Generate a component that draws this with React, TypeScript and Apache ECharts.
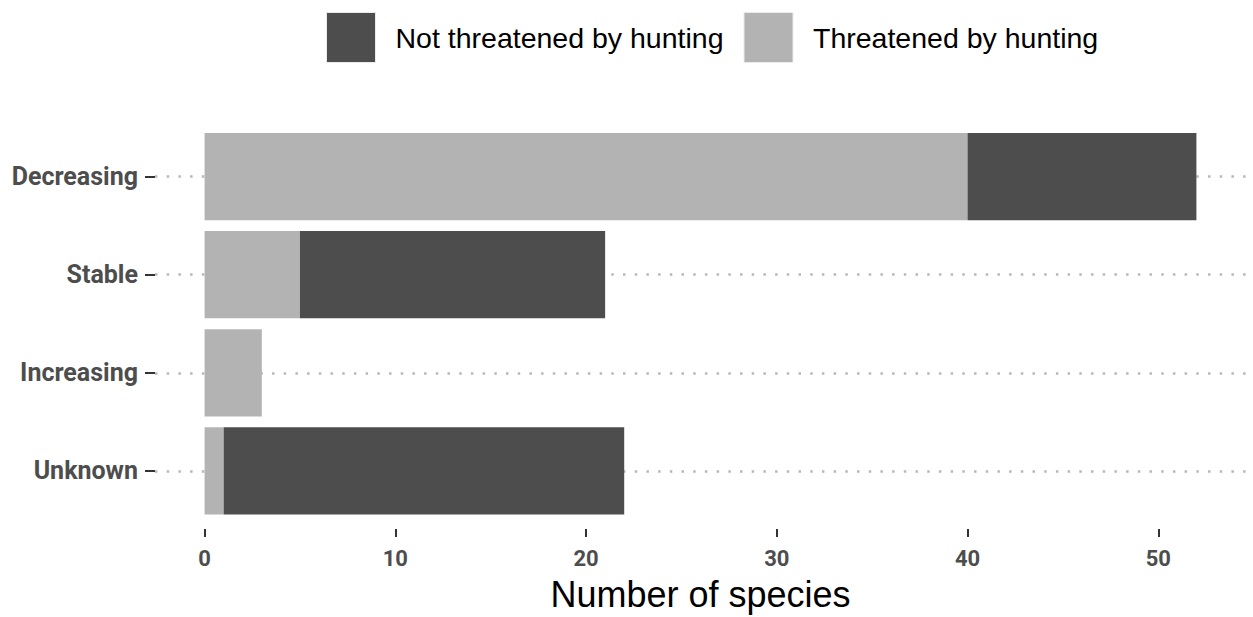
import React, { useEffect, useRef } from "react";
import * as echarts from "echarts";

const categories = ["Decreasing", "Stable", "Increasing", "Unknown"];
const threatened = [40, 5, 3, 1];
const notThreatened = [12, 16, 0, 21];
const xTicks = [0, 10, 20, 30, 40, 50];
const nameNot = "Not threatened by hunting";
const nameThr = "Threatened by hunting";
const colorNot = "#4d4d4d";
const colorThr = "#b3b3b3";

export default function App() {
  const ref = useRef<HTMLDivElement>(null);
  useEffect(() => {
    document.body.style.margin = "0";
    const chart = echarts.init(ref.current!, null, { renderer: "svg" });
    chart.setOption({
      animation: false,
      backgroundColor: "#ffffff",
      legend: {
        top: 7,
        left: 321,
        icon: "rect",
        itemWidth: 49,
        itemHeight: 50,
        itemGap: 20,
        data: [nameNot, nameThr],
        itemStyle: { borderColor: "#ebebeb", borderWidth: 1 },
        textStyle: {
          fontSize: 28.5,
          fontFamily: "Liberation Sans, Arial, sans-serif",
          color: "#000000",
          padding: [3, 0, 0, 15],
        },
      },
      grid: { left: 155, right: 7, top: 127.5, bottom: 93.5, containLabel: false },
      xAxis: {
        type: "value",
        min: -2.6,
        max: 54.6,
        offset: 9,
        axisLine: { show: false, onZero: false },
        axisTick: {
          show: true,
          length: 8,
          customValues: xTicks,
          lineStyle: { color: "#333333", width: 2 },
        },
        axisLabel: {
          customValues: xTicks,
          margin: 18,
          fontSize: 22,
          fontWeight: "bold",
          fontFamily: "Roboto, Arial, sans-serif",
          color: "#4d4d4d",
        },
        splitLine: { show: false },
        name: "Number of species",
        nameLocation: "middle",
        nameGap: 47,
        nameTextStyle: {
          fontSize: 36,
          fontFamily: "Liberation Sans, Arial, sans-serif",
          color: "#000000",
        },
      },
      yAxis: {
        type: "category",
        data: categories,
        inverse: true,
        axisLine: { show: false, onZero: false },
        axisTick: {
          show: true,
          alignWithLabel: true,
          length: 10,
          lineStyle: { color: "#333333", width: 2 },
        },
        axisLabel: {
          margin: 17,
          fontSize: 25,
          fontWeight: "bold",
          fontFamily: "Roboto, Arial, sans-serif",
          color: "#4d4d4d",
          padding: [4, 0, 0, 0],
        },
        splitLine: { show: false },
      },
      series: [
        {
          type: "line",
          data: [],
          z: 1,
          silent: true,
          markLine: {
            z: 1,
            silent: true,
            symbol: ["none", "none"],
            label: { show: false },
            lineStyle: { color: "#b8b8b8", width: 2.5, type: [2.5, 9.2] },
            data: categories.map((c) => ({ yAxis: c })),
          },
        },
        {
          name: nameThr,
          type: "bar",
          stack: "total",
          z: 3,
          barCategoryGap: "11%",
          itemStyle: { color: colorThr },
          data: threatened,
        },
        {
          name: nameNot,
          type: "bar",
          stack: "total",
          z: 3,
          barCategoryGap: "11%",
          itemStyle: { color: colorNot },
          data: notThreatened,
        },
      ],
    });
    return () => chart.dispose();
  }, []);
  return <div ref={ref} style={{ width: 1253, height: 617 }} />;
}
